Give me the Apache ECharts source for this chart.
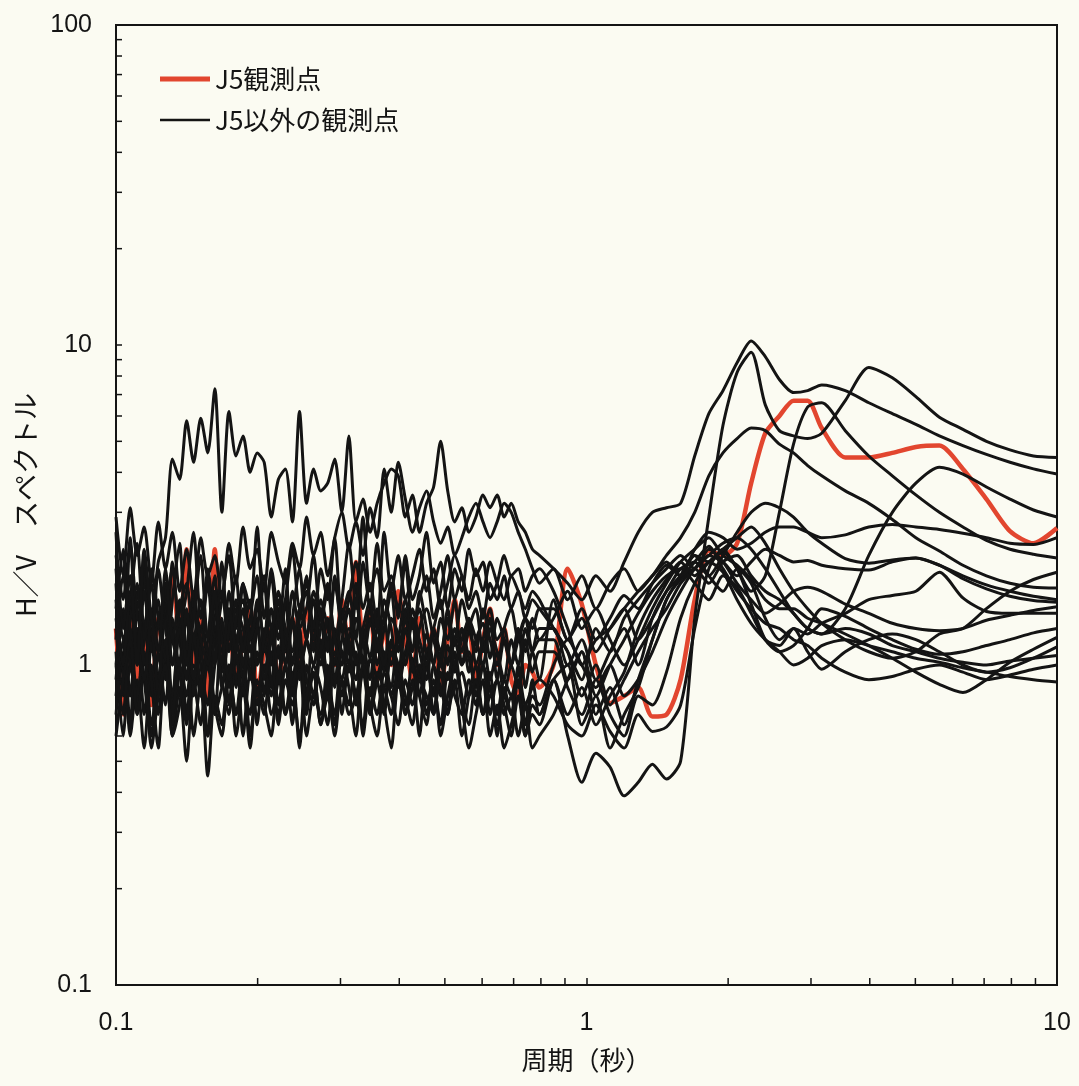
<!DOCTYPE html>
<html>
<head>
<meta charset="utf-8">
<script src="https://cdn.jsdelivr.net/npm/echarts@6/dist/echarts.min.js"></script>
<style>
  html, body { margin: 0; padding: 0; background: #fbfbf2; }
  #chart { width: 1079px; height: 1086px; }
</style>
</head>
<body>
<div id="chart"></div>
<script>
// Period grid (s) shared by every station curve
const periods = [
  0.1,0.1035,0.1072,0.1109,0.1148,0.1189,0.123,0.1274,0.1318,0.1365,
  0.1413,0.1462,0.1514,0.1567,0.1622,0.1679,0.1738,0.1799,0.1862,0.1928,
  0.1995,0.2065,0.2138,0.2213,0.2291,0.2371,0.2455,0.2541,0.263,0.2723,
  0.2818,0.2917,0.302,0.3126,0.3236,0.335,0.3467,0.3589,0.3715,0.3846,
  0.3981,0.4121,0.4266,0.4416,0.4571,0.4732,0.4898,0.507,0.5248,0.5433,
  0.5623,0.5821,0.6026,0.6237,0.6457,0.6683,0.6918,0.7161,0.7413,0.7674,
  0.7943,
  0.8511,0.912,0.9772,1.0471,1.122,1.2023,1.2882,1.3804,1.4791,1.5849,
  1.6982,1.8197,1.9498,2.0893,2.2387,2.3988,2.5704,2.7542,2.9512,3.1623,
  3.5481,3.9811,4.4668,5.0119,5.6234,6.3096,7.0795,7.9433,8.9125,10
];

// H/V spectral ratio at station J5
const j5 = [
  1.3,0.7,1.6,0.9,1.2,0.75,1.4,1.0,1.9,1.2, 2.3,1.0,1.4,0.8,2.3,1.1,1.3,0.9,1.2,1.5,
  0.8,1.1,1.3,0.9,1.2,1.4,1.0,1.5,1.2,1.1, 1.4,1.0,1.6,1.1,2.1,1.2,1.5,0.9,1.3,1.0,
  1.7,1.2,0.9,1.4,1.1,1.3,0.85,1.2,1.6,1.1, 1.3,0.9,1.2,1.5,1.0,1.3,0.9,0.8,1.0,0.95, 0.85,
  1.0,2.0,1.55,1.0,0.76,0.8,0.85,0.69,0.7,0.9, 1.6,2.28,2.2,2.4,3.7,5.3,6.0,6.7,6.7,5.5,
  4.45,4.45,4.6,4.8,4.85,4.1,3.3,2.62,2.4,2.68
];

// H/V spectral ratios at the other stations
const st01 = [
  2.2,1.6,2.4,1.5,2.0,1.4,2.1,2.5,4.4,3.8, 5.8,4.3,5.9,4.6,7.3,3.0,6.2,4.5,5.2,4.0,
  4.6,4.3,2.9,3.8,4.1,2.8,6.2,3.2,4.1,3.5, 3.7,4.4,3.0,5.2,2.8,3.3,2.6,3.2,3.7,4.1,
  3.9,2.9,3.4,2.6,3.2,3.6,5.0,3.5,2.8,3.1, 2.6,2.9,3.4,3.1,3.4,2.9,3.2,2.8,2.6,2.3, 2.2,
  2.0,1.8,1.6,1.9,1.7,2.1,2.6,3.0,3.1,3.2, 4.5,6.1,7.2,8.8,10.3,9.2,7.8,7.1,7.2,7.5,
  7.2,6.6,6.1,5.65,5.2,4.85,4.55,4.3,4.1,3.95
];
const st02 = [
  2.9,1.9,3.1,2.2,2.7,1.8,2.8,2.0,2.6,1.7, 2.3,1.6,2.5,1.9,2.2,1.6,2.4,1.8,2.7,2.0,
  2.3,1.7,2.6,2.1,1.8,2.4,2.0,2.9,2.2,2.6, 1.9,2.5,3.0,2.3,2.8,2.2,3.1,2.5,4.1,3.0,
  4.3,3.3,2.6,3.1,3.5,2.8,2.4,2.7,2.2,2.5, 2.9,3.2,2.8,2.5,2.8,3.2,3.0,2.6,2.3,2.0, 1.8,
  2.0,1.6,1.9,1.5,1.8,2.0,1.7,1.9,2.1,1.9, 2.3,2.6,2.5,2.3,2.4,2.6,2.7,2.7,2.6,2.5,
  2.55,2.7,2.75,2.7,2.65,2.58,2.5,2.4,2.38,2.5
];
const st03 = [
  1.0,1.5,0.8,1.3,0.7,1.2,1.6,0.9,1.4,0.8, 1.1,1.7,1.0,0.75,1.3,1.1,1.5,0.85,1.2,0.95,
  1.4,0.8,1.25,1.05,1.6,0.9,1.15,0.8,1.35,1.0, 1.2,0.85,1.45,1.1,0.9,1.3,1.05,1.5,0.95,1.2,
  0.85,1.1,1.35,0.9,1.25,1.0,0.8,1.15,0.95,1.3, 1.05,0.85,1.2,0.9,1.1,0.8,1.0,0.85,1.2,0.95, 1.1,
  1.1,0.85,0.7,0.9,0.7,0.6,0.8,0.75,0.95,1.4, 1.8,2.1,2.25,2.0,1.55,1.2,1.1,1.15,1.3,1.5,
  1.42,1.3,1.2,1.12,1.08,1.1,1.15,1.2,1.26,1.3
];
const st04 = [
  1.8,0.9,2.5,1.1,1.9,0.8,1.4,1.0,2.1,1.2, 0.9,1.6,1.1,2.0,1.3,0.95,1.7,1.2,1.5,0.9,
  1.3,1.8,1.0,1.5,1.2,0.85,1.4,1.9,1.1,1.6, 1.3,1.0,1.5,1.2,1.8,1.0,1.4,1.1,1.6,1.3,
  0.9,1.5,1.1,1.7,1.3,1.0,1.4,1.2,1.6,1.0, 1.3,1.5,1.1,1.4,0.9,1.2,1.0,1.3,0.85,1.1, 0.9,
  1.6,1.2,1.4,1.1,1.3,1.5,1.2,1.4,1.7,2.0, 2.1,1.9,2.2,2.6,3.0,3.2,3.1,2.9,2.6,2.4,
  2.15,2.08,2.13,2.16,2.05,1.9,1.78,1.7,1.64,1.6
];
const st05 = [
  0.7,1.1,0.6,0.9,0.55,1.0,0.7,1.2,0.6,0.85, 0.5,0.9,0.65,1.1,0.75,0.6,0.95,0.7,1.05,0.6,
  0.85,0.7,1.1,0.65,0.9,0.75,1.0,0.6,0.8,0.7, 1.0,0.65,0.9,0.75,1.1,0.6,0.85,0.7,0.95,0.8,
  0.65,0.9,0.75,1.0,0.7,0.85,0.65,0.95,0.8,0.7, 0.9,0.75,1.0,0.85,0.7,0.9,0.8,0.95,0.75,0.85, 0.9,
  0.8,0.65,0.6,0.75,0.62,0.55,0.7,0.62,0.64,0.75, 1.3,2.0,2.3,2.0,1.7,1.9,3.0,4.9,6.4,6.6,
  5.4,4.5,3.9,3.4,3.0,2.7,2.45,2.3,2.22,2.16
];
const st06 = [
  1.3,0.8,1.6,1.0,2.2,1.2,0.9,1.5,0.75,1.3, 1.0,1.6,0.8,1.2,1.9,1.0,1.4,0.9,1.2,1.6,
  1.0,1.3,0.85,1.5,1.1,1.35,0.9,1.2,1.0,1.5, 0.8,1.3,1.1,0.95,1.4,1.2,0.9,1.3,1.05,0.85,
  1.25,1.0,1.4,1.1,0.9,1.3,1.0,1.5,1.15,1.3, 0.95,1.2,1.35,1.05,1.4,1.2,1.0,1.3,1.1,1.4, 1.2,
  1.4,1.7,1.3,1.5,1.2,1.0,1.2,1.5,1.8,2.1, 2.3,2.5,2.2,2.05,1.85,1.6,1.5,1.5,1.4,1.35,
  1.25,1.15,1.05,0.95,0.87,0.82,0.9,1.02,1.12,1.22
];
const st07 = [
  0.9,1.4,1.1,0.7,1.2,1.5,0.85,1.1,0.65,1.0, 1.4,0.8,1.15,0.6,1.0,1.3,0.75,1.2,0.9,0.7,
  1.1,0.95,1.3,0.75,1.0,0.65,1.2,0.9,0.75,1.1, 0.85,1.25,0.7,1.0,0.8,0.65,1.05,0.9,0.7,1.15,
  1.0,0.75,0.9,0.6,1.0,0.8,1.1,0.7,0.9,0.6, 0.8,1.0,0.7,0.85,0.65,0.8,0.7,0.9,0.6,0.75, 0.7,
  0.9,0.7,0.85,0.65,0.8,0.95,1.3,1.6,1.85,2.1, 1.9,2.1,1.95,1.6,1.35,1.2,1.1,1.0,1.05,1.15,
  1.2,1.15,1.1,1.05,1.02,0.98,0.95,0.92,0.9,0.885
];
const st08 = [
  2.0,1.2,1.6,2.4,1.3,1.8,1.1,1.5,2.0,1.3, 1.7,2.6,1.4,1.9,1.2,1.6,2.2,1.3,1.8,1.5,
  2.7,1.4,1.9,1.2,1.6,2.3,1.5,1.8,1.3,2.0, 1.6,2.5,1.4,1.7,1.2,2.1,1.5,2.4,1.7,1.9,
  1.4,2.2,1.6,1.9,2.6,1.8,2.1,1.5,2.0,1.7, 2.3,1.9,2.1,1.6,1.8,2.2,1.9,2.0,1.7,1.9, 2.0,
  1.7,1.3,1.0,1.2,1.3,1.5,1.7,1.9,2.2,2.5, 3.0,3.9,4.6,5.1,5.5,5.4,4.9,4.6,4.2,3.9,
  3.5,3.2,2.85,2.5,2.27,2.05,1.9,1.8,1.75,1.74
];
const st09 = [
  1.1,0.6,1.0,0.75,1.3,0.9,0.55,1.1,0.8,1.4, 0.7,1.0,0.85,0.6,1.2,0.9,0.7,1.05,0.8,1.3,
  0.65,1.0,0.8,1.15,0.7,0.95,0.55,1.0,0.8,1.2, 0.9,0.7,1.1,0.85,0.6,1.0,0.8,1.2,0.75,0.55,
  0.9,0.7,1.05,0.8,0.65,1.0,0.85,0.7,1.1,0.8, 0.65,0.9,0.7,0.95,0.6,0.85,0.7,1.0,0.65,0.8, 0.75,
  1.0,1.2,1.0,0.85,1.0,0.8,0.9,1.1,1.4,1.7, 2.0,2.2,2.4,2.5,2.3,2.0,1.7,1.45,1.3,1.25,
  1.5,2.2,3.0,3.7,4.15,3.95,3.6,3.3,3.05,2.9
];
const st10 = [
  1.5,2.3,1.0,1.7,1.2,2.0,1.4,0.9,1.6,2.4, 1.1,1.5,1.3,1.8,1.0,2.1,1.2,1.6,1.0,1.4,
  1.9,1.1,1.5,1.3,2.0,1.0,1.4,1.7,1.2,1.5, 1.1,1.8,1.3,1.0,1.6,1.2,1.5,1.0,1.3,1.7,
  1.1,1.4,0.95,1.3,1.5,1.2,1.0,1.4,1.2,1.6, 1.3,1.1,1.5,1.2,1.0,1.3,1.5,1.2,1.4,1.1, 1.3,
  1.3,1.0,1.2,0.9,1.1,1.3,1.0,1.4,1.7,1.9, 2.2,1.9,1.7,2.0,1.8,1.4,1.2,1.3,1.25,1.35,
  1.45,1.6,1.65,1.7,1.95,1.62,1.47,1.45,1.45,1.45
];
const st11 = [
  0.8,1.2,0.65,1.5,0.9,0.6,1.1,0.75,1.3,0.95, 0.65,1.2,0.8,1.0,0.7,1.4,0.85,1.1,0.6,0.95,
  0.75,1.15,0.9,0.7,1.0,0.8,1.3,0.7,1.0,0.85, 0.65,1.05,0.9,1.2,0.75,0.95,0.7,0.9,1.1,0.8,
  0.95,0.7,0.85,1.0,0.75,0.9,0.6,0.8,1.0,0.75, 0.55,0.7,0.9,0.6,0.75,0.55,0.65,0.8,0.6,0.7, 0.65,
  0.9,0.6,0.43,0.53,0.48,0.39,0.43,0.49,0.44,0.5, 1.4,2.9,5.6,8.2,9.5,6.5,5.4,5.2,5.1,5.3,
  6.7,8.5,7.9,6.9,5.95,5.45,5.0,4.7,4.5,4.45
];
const st12 = [
  1.2,1.9,1.3,1.0,1.7,1.1,2.0,1.3,1.0,1.5, 1.8,1.2,1.6,1.0,1.4,1.7,1.1,1.5,1.3,1.0,
  1.6,1.2,2.0,1.4,1.1,1.7,1.3,1.5,2.2,1.4, 1.8,1.2,1.6,2.4,1.5,2.9,1.7,2.0,1.4,1.8,
  1.5,2.1,1.3,1.6,1.9,1.4,1.7,2.2,1.6,1.9, 1.5,1.7,1.4,1.8,1.6,1.9,1.5,1.7,1.4,1.6, 1.5,
  1.3,1.1,0.8,1.0,0.75,0.9,1.1,1.3,1.5,1.8, 2.0,2.2,2.1,1.9,2.1,2.3,2.2,2.1,2.12,2.05,
  2.0,1.98,2.1,2.16,2.05,1.86,1.73,1.64,1.59,1.57
];
const st13 = [
  1.0,0.7,1.3,0.8,1.1,0.65,0.9,1.2,0.7,1.0, 0.8,1.25,0.9,1.1,0.7,0.85,1.0,0.6,0.9,1.15,
  0.8,1.0,0.7,0.9,1.3,0.85,1.1,0.75,0.95,0.65, 0.9,1.1,0.8,1.0,0.9,1.2,0.7,0.95,0.85,1.1,
  0.9,1.3,1.0,0.8,1.1,0.7,1.0,0.9,1.2,1.0, 1.1,0.8,1.0,0.7,0.9,0.75,0.6,0.8,0.65,0.9, 0.7,
  0.9,1.0,0.65,0.8,0.55,0.7,0.85,1.2,1.6,1.85, 2.0,1.8,2.1,2.2,1.9,1.7,1.6,1.45,1.3,1.25,
  1.3,1.25,1.15,1.1,1.05,1.02,1.0,1.03,1.05,1.07
];
const st14 = [
  1.6,1.0,1.4,1.8,1.0,1.3,0.8,1.7,1.2,1.0, 1.5,0.9,1.3,1.1,1.6,0.85,1.3,1.9,1.1,1.4,
  1.0,1.2,1.5,0.9,1.2,1.4,1.0,1.2,1.6,1.1, 1.4,0.9,1.2,1.5,1.0,1.3,1.6,1.1,1.4,1.0,
  1.2,1.6,1.3,1.5,1.1,1.3,1.6,1.0,1.3,1.1, 1.4,1.2,1.0,1.3,1.1,0.9,1.2,1.0,1.3,1.1, 1.2,
  1.2,0.9,1.1,0.7,0.85,0.65,0.9,1.2,1.6,1.9, 2.2,2.1,2.3,2.5,2.7,2.4,2.0,1.7,1.5,1.35,
  1.2,1.1,1.05,1.1,1.25,1.3,1.5,1.7,1.85,1.95
];
const st15 = [
  0.6,0.9,1.2,0.7,0.95,0.55,0.8,1.0,0.6,0.75, 1.1,0.6,0.9,0.45,0.8,0.65,1.0,0.7,0.85,0.55,
  0.9,0.75,0.6,0.95,0.7,0.85,0.6,0.8,0.95,0.65, 0.8,0.6,0.9,0.7,0.8,1.0,0.75,0.6,0.85,0.7,
  1.0,0.8,0.65,0.9,0.8,0.7,0.95,0.75,0.85,0.95, 0.8,0.9,0.7,0.8,0.9,0.7,0.8,0.6,0.75,0.55, 0.6,
  0.7,0.9,1.1,0.8,1.0,1.2,1.45,1.7,1.9,2.0, 1.8,1.6,1.9,1.75,1.45,1.2,1.15,1.3,1.1,0.97,
  1.1,1.2,1.25,1.2,1.1,1.0,0.95,0.98,1.05,1.14
];
const st16 = [
  1.4,1.0,1.7,1.2,0.9,1.4,1.1,1.8,1.0,1.3, 0.9,1.5,1.2,1.0,1.6,1.2,0.9,1.4,1.6,1.1,
  1.3,0.9,1.2,1.7,1.3,1.1,1.5,1.2,1.0,1.3, 1.7,1.2,1.0,1.3,1.2,1.0,1.35,1.2,1.0,1.4,
  1.25,1.0,1.5,1.2,1.0,1.3,1.1,1.4,1.0,1.2, 1.4,1.0,1.2,1.5,1.2,1.3,1.0,1.2,1.4,1.3, 1.5,
  1.5,1.2,1.5,1.2,1.4,1.65,1.5,1.8,2.05,1.9, 2.1,2.35,2.0,1.7,1.5,1.35,1.3,1.2,1.15,1.05,
  0.95,0.9,0.92,0.97,1.0,0.95,0.9,0.93,0.97,1.0
];
const st17 = [
  2.6,1.3,1.9,1.0,2.3,1.4,1.1,2.0,1.2,1.6, 1.0,1.4,2.2,1.2,1.7,1.0,1.5,1.1,1.8,1.2,
  1.5,1.9,1.3,1.6,1.0,1.4,2.0,1.2,1.7,1.4, 1.2,1.9,1.3,1.6,2.1,1.5,1.8,1.3,2.6,1.7,
  2.2,1.6,1.9,2.3,1.7,2.0,1.5,1.8,2.2,1.9, 1.6,2.0,1.7,2.1,1.8,1.6,1.9,1.7,1.5,1.7, 1.6,
  1.3,1.1,0.9,1.3,1.1,1.4,1.6,1.8,2.0,2.2, 2.0,2.3,2.1,1.8,1.6,1.45,1.55,1.7,1.75,1.7,
  1.55,1.45,1.35,1.3,1.28,1.3,1.38,1.43,1.48,1.52
];
const otherStations = [st01, st02, st03, st04, st05, st06, st07, st08, st09,
  st10, st11, st12, st13, st14, st15, st16, st17];

// Axis ranges and the 2..9 minor tick positions of each decade
const xRange = [0.1, 10];
const yRange = [0.1, 100];
const xMinorTicks = [0.2,0.3,0.4,0.5,0.6,0.7,0.8,0.9,2,3,4,5,6,7,8,9];
const yMinorTicks = [0.2,0.3,0.4,0.5,0.6,0.7,0.8,0.9,2,3,4,5,6,7,8,9,20,30,40,50,60,70,80,90];

const NAME_J5 = 'J5観測点';
const NAME_OTHERS = 'J5以外の観測点';
const INK = '#141414';
const RED = '#e2462f';
const CJK = '"Noto Sans CJK JP", sans-serif';
const LATIN = '"Liberation Sans", Arial, sans-serif';
const BLACK_WIDTH = 3;

const toPairs = vals => periods.map((t, i) => [t, vals[i]]);

const series = [];
series.push({
  name: NAME_J5, type: 'line', data: toPairs(j5),
  showSymbol: false, symbol: 'none', smooth: 0.25,
  lineStyle: { color: RED, width: 4.5 }, itemStyle: { color: RED },
  z: 2
});
otherStations.forEach(vals => {
  series.push({
    name: NAME_OTHERS, type: 'line', data: toPairs(vals),
    showSymbol: false, symbol: 'none', smooth: 0.25,
    lineStyle: { color: INK, width: BLACK_WIDTH }, itemStyle: { color: INK },
    z: 3
  });
});

// Minor ticks drawn on the bottom and left frame, pointing inward
series.push({
  name: 'xMinor', type: 'custom', silent: true, clip: false, z: 6,
  data: xMinorTicks.map(v => [v, yRange[0]]),
  renderItem: (params, api) => {
    const p = api.coord([api.value(0), api.value(1)]);
    return { type: 'line', shape: { x1: p[0], y1: p[1], x2: p[0], y2: p[1] - 7 },
      style: { stroke: INK, lineWidth: 1.5 } };
  }
});
series.push({
  name: 'yMinor', type: 'custom', silent: true, clip: false, z: 6,
  data: yMinorTicks.map(v => [xRange[0], v]),
  renderItem: (params, api) => {
    const p = api.coord([api.value(0), api.value(1)]);
    return { type: 'line', shape: { x1: p[0], y1: p[1], x2: p[0] + 6, y2: p[1] },
      style: { stroke: INK, lineWidth: 1.5 } };
  }
});

// One legend block per entry so each key line keeps its own thickness
const legendCommon = {
  orient: 'vertical', left: 155, icon: 'rect', itemWidth: 50,
  selectedMode: false,
  textStyle: { fontSize: 26, color: INK, fontFamily: CJK }
};

const chart = echarts.init(document.getElementById('chart'), null, { renderer: 'canvas' });
chart.setOption({
  animation: false,
  backgroundColor: '#fbfbf2',
  grid: { left: 116, right: 22, top: 25, bottom: 101, show: true,
    borderColor: INK, borderWidth: 2, backgroundColor: 'transparent' },
  legend: [
    Object.assign({}, legendCommon, { data: [NAME_J5], top: 61, itemHeight: 5 }),
    Object.assign({}, legendCommon, { data: [NAME_OTHERS], top: 102, itemHeight: 2.6 })
  ],
  xAxis: {
    type: 'log', logBase: 10, min: xRange[0], max: xRange[1],
    name: '周期（秒）', nameLocation: 'middle', nameGap: 62,
    nameTextStyle: { fontSize: 26, color: INK, fontFamily: CJK },
    axisLine: { show: true, lineStyle: { color: INK, width: 2 } },
    axisTick: { show: true, inside: true, length: 7, lineStyle: { color: INK, width: 1.5 } },
    axisLabel: { fontSize: 25, color: INK, margin: 26, fontFamily: LATIN },
    splitLine: { show: false }, minorTick: { show: false }
  },
  yAxis: {
    type: 'log', logBase: 10, min: yRange[0], max: yRange[1],
    name: 'H／V　スペクトル', nameLocation: 'middle', nameGap: 72, nameRotate: 90,
    nameTextStyle: { fontSize: 27, color: INK, fontFamily: CJK },
    axisLine: { show: true, lineStyle: { color: INK, width: 2 } },
    axisTick: { show: true, inside: true, length: 6, lineStyle: { color: INK, width: 1.5 } },
    axisLabel: { fontSize: 25, color: INK, margin: 24, fontFamily: LATIN },
    splitLine: { show: false }, minorTick: { show: false }
  },
  series: series
});
</script>
</body>
</html>
